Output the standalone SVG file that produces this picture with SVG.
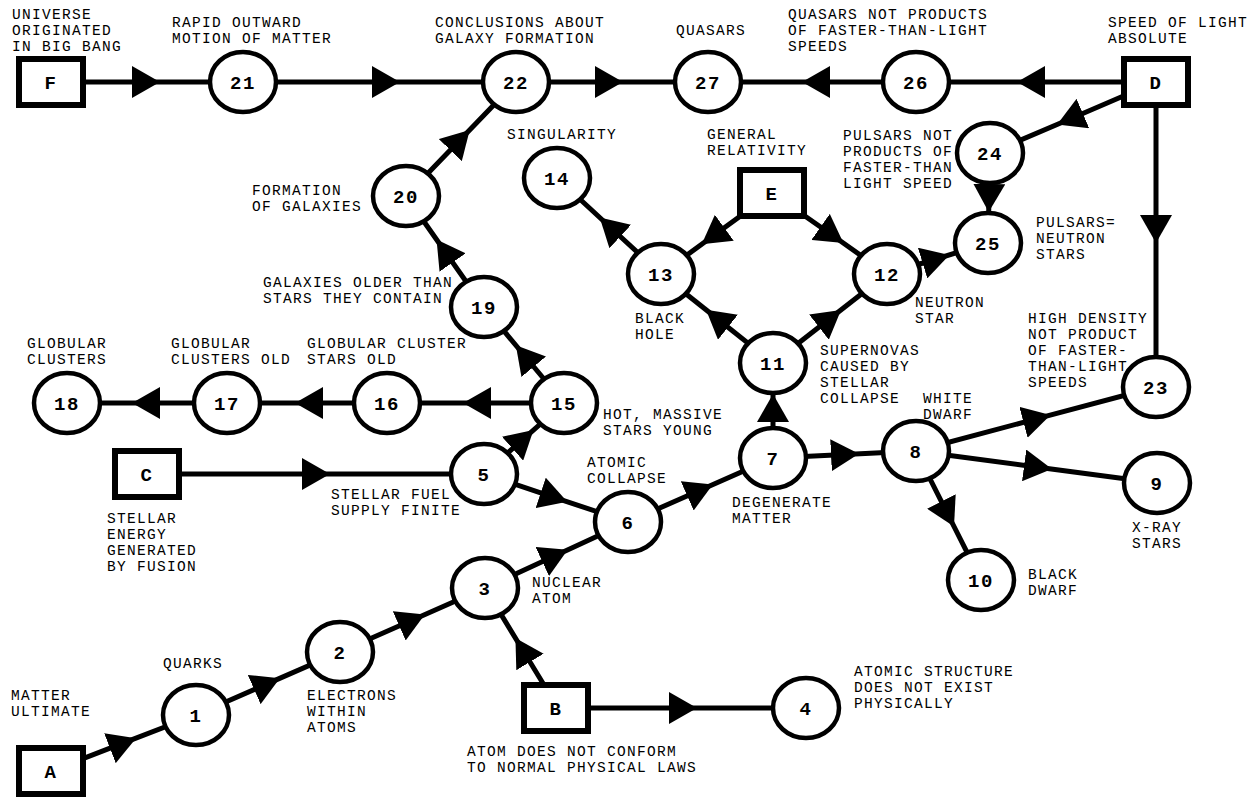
<svg xmlns="http://www.w3.org/2000/svg" width="1254" height="798" viewBox="0 0 1254 798">
<style>
.e{fill:none;stroke:#000;stroke-width:5;marker-mid:url(#ah)}
.c{fill:#fff;stroke:#000;stroke-width:4.5}
.b{fill:#fff;stroke:#000;stroke-width:6}
.n{font-family:"Liberation Mono",monospace;font-weight:bold;font-size:19px;letter-spacing:1.5px;text-anchor:middle;fill:#000}
.t{font-family:"Liberation Mono",monospace;font-size:14.5px;letter-spacing:1.3px;fill:#000}
</style>
<defs>
<marker id="ah" markerUnits="userSpaceOnUse" viewBox="0 0 28 32" refX="14" refY="16" markerWidth="28" markerHeight="32" orient="auto">
<path d="M0,0 L28,16 L0,32 z" fill="#000"/>
</marker>
</defs>
<rect width="1254" height="798" fill="#fff"/>
<g id="connectors">
<polyline class="e" points="51,82 146,82 243,82"/>
<polyline class="e" points="243,82 386,82 516,82"/>
<polyline class="e" points="516,82 609,82 708,82"/>
<polyline class="e" points="916,82 816,82 708,82"/>
<polyline class="e" points="1156,82 1031,82 916,82"/>
<polyline class="e" points="1156,82 1070,119 990,153"/>
<polyline class="e" points="990,153 989,198 988,243"/>
<polyline class="e" points="1156,82 1156,229 1156,387"/>
<polyline class="e" points="887,274 936,259 988,243"/>
<polyline class="e" points="772,193 713,236 661,274"/>
<polyline class="e" points="772,193 832,235 887,274"/>
<polyline class="e" points="661,274 610,227 557,178"/>
<polyline class="e" points="773,363 717,318.5 661,274"/>
<polyline class="e" points="773,363 830,318.5 887,274"/>
<polyline class="e" points="773,458 773,408 773,363"/>
<polyline class="e" points="773,458 845,454.5 916,451"/>
<polyline class="e" points="916,451 1037,418.7 1156,387"/>
<polyline class="e" points="916,451 1038,467.2 1157,483"/>
<polyline class="e" points="916,451 947.7,514 981,580"/>
<polyline class="e" points="628,522 700,490.2 773,458"/>
<polyline class="e" points="484,474 554,497.3 628,522"/>
<polyline class="e" points="485,588 555,555.7 628,522"/>
<polyline class="e" points="484,474 523,439.4 564,403"/>
<polyline class="e" points="564,403 477,403 387,403"/>
<polyline class="e" points="387,403 309,403 227,403"/>
<polyline class="e" points="227,403 146,403 67,403"/>
<polyline class="e" points="564,403 524.8,356 484,307"/>
<polyline class="e" points="484,307 444.6,251 406,196"/>
<polyline class="e" points="406,196 460,140 516,82"/>
<polyline class="e" points="147,474 316,474 484,474"/>
<polyline class="e" points="51,771 123,743.2 196,715"/>
<polyline class="e" points="196,715 267,683.9 340,652"/>
<polyline class="e" points="340,652 412,620.2 485,588"/>
<polyline class="e" points="558,708 522.7,650 485,588"/>
<polyline class="e" points="556,708 683,708 806,708"/>
</g>
<g id="nF"><rect class="b" x="19" y="59" width="64" height="46"/><text class="n" x="51" y="89">F</text>
<text class="t"><tspan x="12" y="19">UNIVERSE</tspan><tspan x="12" y="35">ORIGINATED</tspan><tspan x="12" y="51">IN BIG BANG</tspan></text></g>
<g id="n21"><ellipse class="c" cx="243" cy="82" rx="33" ry="30"/><text class="n" x="243" y="89">21</text>
<text class="t"><tspan x="172" y="27">RAPID OUTWARD</tspan><tspan x="172" y="43">MOTION OF MATTER</tspan></text></g>
<g id="n22"><ellipse class="c" cx="516" cy="82" rx="33" ry="30"/><text class="n" x="516" y="89">22</text>
<text class="t"><tspan x="435" y="27">CONCLUSIONS ABOUT</tspan><tspan x="435" y="43">GALAXY FORMATION</tspan></text></g>
<g id="n27"><ellipse class="c" cx="708" cy="82" rx="33" ry="30"/><text class="n" x="708" y="89">27</text>
<text class="t" x="676" y="35">QUASARS</text></g>
<g id="n26"><ellipse class="c" cx="916" cy="82" rx="33" ry="30"/><text class="n" x="916" y="89">26</text>
<text class="t"><tspan x="788" y="19">QUASARS NOT PRODUCTS</tspan><tspan x="788" y="35">OF FASTER-THAN-LIGHT</tspan><tspan x="788" y="51">SPEEDS</tspan></text></g>
<g id="nD"><rect class="b" x="1124" y="59" width="64" height="46"/><text class="n" x="1156" y="89">D</text>
<text class="t"><tspan x="1108" y="27">SPEED OF LIGHT</tspan><tspan x="1108" y="43">ABSOLUTE</tspan></text></g>
<g id="n14"><ellipse class="c" cx="557" cy="178" rx="33" ry="30"/><text class="n" x="557" y="185">14</text>
<text class="t" x="507" y="139">SINGULARITY</text></g>
<g id="nE"><rect class="b" x="740" y="170" width="64" height="46"/><text class="n" x="772" y="200">E</text>
<text class="t"><tspan x="707" y="139">GENERAL</tspan><tspan x="707" y="155">RELATIVITY</tspan></text></g>
<g id="n24"><ellipse class="c" cx="990" cy="153" rx="33" ry="30"/><text class="n" x="990" y="160">24</text>
<text class="t"><tspan x="843" y="140">PULSARS NOT</tspan><tspan x="843" y="156">PRODUCTS OF</tspan><tspan x="843" y="172">FASTER-THAN</tspan><tspan x="843" y="188">LIGHT SPEED</tspan></text></g>
<g id="n25"><ellipse class="c" cx="988" cy="243" rx="33" ry="30"/><text class="n" x="988" y="250">25</text>
<text class="t"><tspan x="1036" y="227">PULSARS=</tspan><tspan x="1036" y="243">NEUTRON</tspan><tspan x="1036" y="259">STARS</tspan></text></g>
<g id="n20"><ellipse class="c" cx="406" cy="196" rx="33" ry="30"/><text class="n" x="406" y="203">20</text>
<text class="t"><tspan x="252" y="195">FORMATION</tspan><tspan x="252" y="211">OF GALAXIES</tspan></text></g>
<g id="n19"><ellipse class="c" cx="484" cy="307" rx="33" ry="30"/><text class="n" x="484" y="314">19</text>
<text class="t"><tspan x="263" y="287">GALAXIES OLDER THAN</tspan><tspan x="263" y="303">STARS THEY CONTAIN</tspan></text></g>
<g id="n13"><ellipse class="c" cx="661" cy="274" rx="33" ry="30"/><text class="n" x="661" y="281">13</text>
<text class="t"><tspan x="635" y="323">BLACK</tspan><tspan x="635" y="339">HOLE</tspan></text></g>
<g id="n12"><ellipse class="c" cx="887" cy="274" rx="33" ry="30"/><text class="n" x="887" y="281">12</text>
<text class="t"><tspan x="915" y="307">NEUTRON</tspan><tspan x="915" y="323">STAR</tspan></text></g>
<g id="n23"><ellipse class="c" cx="1156" cy="387" rx="33" ry="30"/><text class="n" x="1156" y="394">23</text>
<text class="t"><tspan x="1028" y="323">HIGH DENSITY</tspan><tspan x="1028" y="339">NOT PRODUCT</tspan><tspan x="1028" y="355">OF FASTER-</tspan><tspan x="1028" y="371">THAN-LIGHT</tspan><tspan x="1028" y="387">SPEEDS</tspan></text></g>
<g id="n11"><ellipse class="c" cx="773" cy="363" rx="33" ry="30"/><text class="n" x="773" y="370">11</text>
<text class="t"><tspan x="820" y="355">SUPERNOVAS</tspan><tspan x="820" y="371">CAUSED BY</tspan><tspan x="820" y="387">STELLAR</tspan><tspan x="820" y="403">COLLAPSE</tspan></text></g>
<g id="n18"><ellipse class="c" cx="67" cy="403" rx="33" ry="30"/><text class="n" x="67" y="410">18</text>
<text class="t"><tspan x="27" y="348">GLOBULAR</tspan><tspan x="27" y="364">CLUSTERS</tspan></text></g>
<g id="n17"><ellipse class="c" cx="227" cy="403" rx="33" ry="30"/><text class="n" x="227" y="410">17</text>
<text class="t"><tspan x="171" y="348">GLOBULAR</tspan><tspan x="171" y="364">CLUSTERS OLD</tspan></text></g>
<g id="n16"><ellipse class="c" cx="387" cy="403" rx="33" ry="30"/><text class="n" x="387" y="410">16</text>
<text class="t"><tspan x="307" y="348">GLOBULAR CLUSTER</tspan><tspan x="307" y="364">STARS OLD</tspan></text></g>
<g id="n15"><ellipse class="c" cx="564" cy="403" rx="33" ry="30"/><text class="n" x="564" y="410">15</text>
<text class="t"><tspan x="603" y="419">HOT, MASSIVE</tspan><tspan x="603" y="435">STARS YOUNG</tspan></text></g>
<g id="n8"><ellipse class="c" cx="916" cy="451" rx="33" ry="30"/><text class="n" x="916" y="458">8</text>
<text class="t"><tspan x="923" y="403">WHITE</tspan><tspan x="923" y="419">DWARF</tspan></text></g>
<g id="nC"><rect class="b" x="115" y="451" width="64" height="46"/><text class="n" x="147" y="481">C</text>
<text class="t"><tspan x="107" y="523">STELLAR</tspan><tspan x="107" y="539">ENERGY</tspan><tspan x="107" y="555">GENERATED</tspan><tspan x="107" y="571">BY FUSION</tspan></text></g>
<g id="n5"><ellipse class="c" cx="484" cy="474" rx="33" ry="30"/><text class="n" x="484" y="481">5</text>
<text class="t"><tspan x="331" y="499">STELLAR FUEL</tspan><tspan x="331" y="515">SUPPLY FINITE</tspan></text></g>
<g id="n7"><ellipse class="c" cx="773" cy="458" rx="33" ry="30"/><text class="n" x="773" y="465">7</text>
<text class="t"><tspan x="732" y="507">DEGENERATE</tspan><tspan x="732" y="523">MATTER</tspan></text></g>
<g id="n6"><ellipse class="c" cx="628" cy="522" rx="33" ry="30"/><text class="n" x="628" y="529">6</text>
<text class="t"><tspan x="587" y="467">ATOMIC</tspan><tspan x="587" y="483">COLLAPSE</tspan></text></g>
<g id="n9"><ellipse class="c" cx="1157" cy="483" rx="33" ry="30"/><text class="n" x="1157" y="490">9</text>
<text class="t"><tspan x="1132" y="532">X-RAY</tspan><tspan x="1132" y="548">STARS</tspan></text></g>
<g id="n10"><ellipse class="c" cx="981" cy="580" rx="33" ry="30"/><text class="n" x="981" y="587">10</text>
<text class="t"><tspan x="1028" y="579">BLACK</tspan><tspan x="1028" y="595">DWARF</tspan></text></g>
<g id="n3"><ellipse class="c" cx="485" cy="588" rx="33" ry="30"/><text class="n" x="485" y="595">3</text>
<text class="t"><tspan x="532" y="587">NUCLEAR</tspan><tspan x="532" y="603">ATOM</tspan></text></g>
<g id="n2"><ellipse class="c" cx="340" cy="652" rx="33" ry="30"/><text class="n" x="340" y="659">2</text>
<text class="t"><tspan x="307" y="700">ELECTRONS</tspan><tspan x="307" y="716">WITHIN</tspan><tspan x="307" y="732">ATOMS</tspan></text></g>
<g id="n1"><ellipse class="c" cx="196" cy="715" rx="33" ry="30"/><text class="n" x="196" y="722">1</text>
<text class="t" x="163" y="668">QUARKS</text></g>
<g id="nA"><rect class="b" x="19" y="748" width="64" height="46"/><text class="n" x="51" y="778">A</text>
<text class="t"><tspan x="11" y="700">MATTER</tspan><tspan x="11" y="716">ULTIMATE</tspan></text></g>
<g id="nB"><rect class="b" x="524" y="685" width="64" height="46"/><text class="n" x="556" y="715">B</text>
<text class="t"><tspan x="467" y="756">ATOM DOES NOT CONFORM</tspan><tspan x="467" y="772">TO NORMAL PHYSICAL LAWS</tspan></text></g>
<g id="n4"><ellipse class="c" cx="806" cy="708" rx="33" ry="30"/><text class="n" x="806" y="715">4</text>
<text class="t"><tspan x="854" y="676">ATOMIC STRUCTURE</tspan><tspan x="854" y="692">DOES NOT EXIST</tspan><tspan x="854" y="708">PHYSICALLY</tspan></text></g>
</svg>
